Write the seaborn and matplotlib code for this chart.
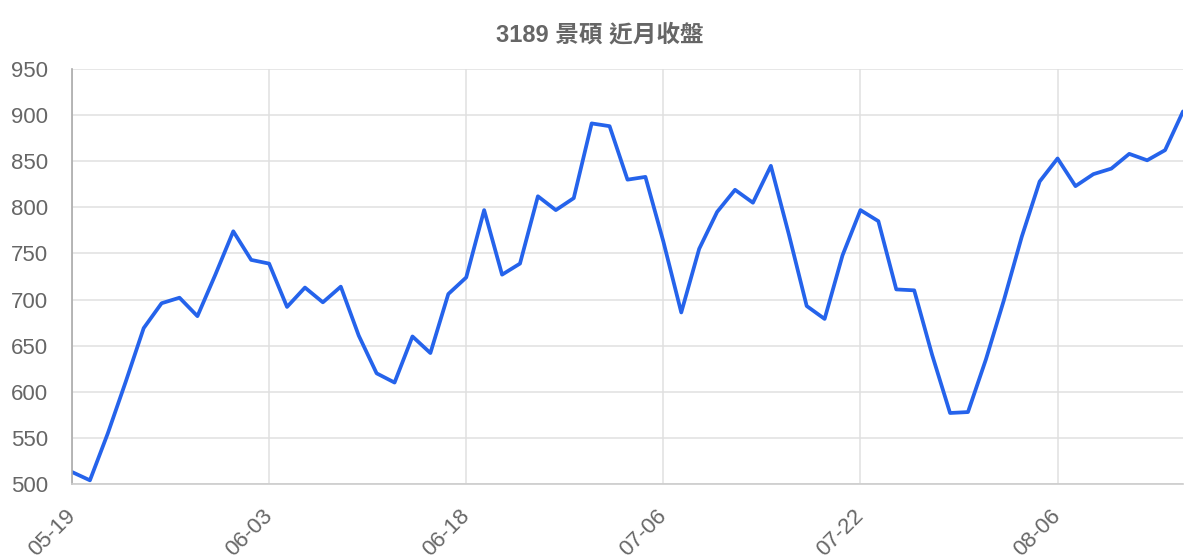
import numpy as np
import pandas as pd
import matplotlib
matplotlib.use("Agg")
import matplotlib.pyplot as plt
import seaborn as sns

# closing prices, one per trading day
close = [
    513, 504, 555, 611, 669, 696, 702, 682, 727, 774,
    743, 739, 692, 713, 697, 714, 661, 620, 610, 660,
    642, 706, 724, 797, 727, 739, 812, 797, 810, 891,
    888, 830, 833, 763, 686, 755, 795, 819, 805, 845,
    771, 693, 679, 748, 797, 785, 711, 710, 640, 577,
    578, 635, 699, 768, 828, 853, 823, 836, 842, 858,
    851, 862, 904,
]
tick_pos = [0, 11, 22, 33, 44, 55]
tick_labels = ["05-19", "06-03", "06-18", "07-06", "07-22", "08-06"]
title = "3189 景碩 近月收盤"

df = pd.DataFrame({"day": np.arange(len(close)), "close": close})

sns.set_theme(style="whitegrid")
plt.rcParams["font.family"] = ["Liberation Sans", "Noto Sans CJK TC", "DejaVu Sans"]

fig = plt.figure(figsize=(12, 5.6), dpi=100)
ax = fig.add_axes([72 / 1200, 1 - 484 / 560, (1183 - 72) / 1200, (484 - 69) / 560])

sns.lineplot(data=df, x="day", y="close", ax=ax, color="#2563eb", linewidth=2.7)

ax.set_xlim(0, len(close) - 1)
ax.set_ylim(500, 950)
ax.set_yticks(range(500, 951, 50))
ax.set_xticks(tick_pos)
ax.set_xticklabels(tick_labels, rotation=45, ha="right", va="center",
                   rotation_mode="anchor")
ax.set_xlabel("")
ax.set_ylabel("")

ax.grid(True, color="#e0e0e0", linewidth=1.1)
ax.tick_params(axis="both", colors="#e0e0e0", labelcolor="#666666", length=14, width=1.1)
ax.tick_params(axis="y", labelsize=16, pad=3)
ax.tick_params(axis="x", labelsize=16, pad=7)

for s in ["top", "right"]:
    ax.spines[s].set_visible(False)
ax.spines["left"].set_color("#aaaaaa")
ax.spines["left"].set_linewidth(1.2)
ax.spines["bottom"].set_color("#cccccc")
ax.spines["bottom"].set_linewidth(1.2)
ax.set_facecolor("white")

fig.text(0.5, 1 - 35 / 560, title, ha="center", va="center",
         fontsize=17, fontweight="bold", color="#666666")

fig.savefig("out.png", dpi=100, facecolor="white")
